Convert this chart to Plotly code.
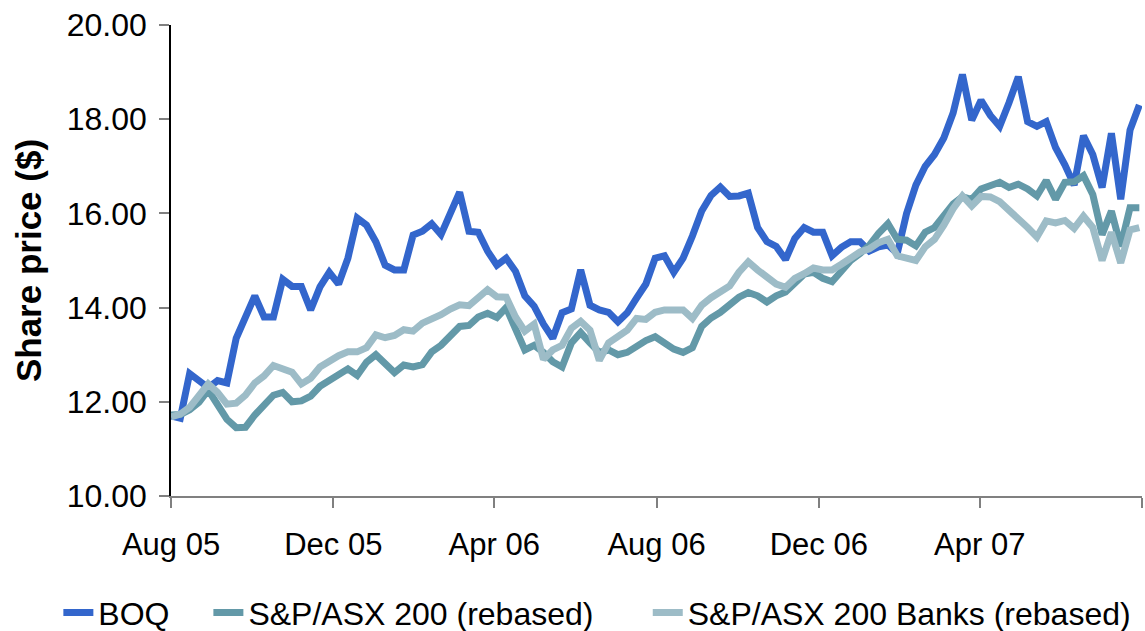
import pandas as pd
import plotly.graph_objects as go

# Weekly observation dates (Aug 2005 - Jul 2007)
dates = pd.date_range("2005-08-01", periods=105, freq="7D")

boq = [11.70, 11.65, 12.60, 12.45, 12.30, 12.45, 12.40, 13.35, 13.85, 14.25,
       13.80, 13.80, 14.60, 14.45, 14.45, 13.95, 14.44, 14.75, 14.50, 15.05,
       15.90, 15.75, 15.40, 14.90, 14.80, 14.80, 15.54, 15.62, 15.78, 15.55,
       16.00, 16.45, 15.62, 15.60, 15.20, 14.90, 15.05, 14.77, 14.25, 14.03,
       13.65, 13.35, 13.89, 13.97, 14.80, 14.05, 13.95, 13.90, 13.70, 13.89,
       14.20, 14.50, 15.05, 15.10, 14.75, 15.05, 15.52, 16.05, 16.38, 16.56,
       16.36, 16.37, 16.43, 15.70, 15.40, 15.30, 15.02, 15.47, 15.70, 15.60,
       15.60, 15.10, 15.28, 15.40, 15.40, 15.20, 15.29, 15.33, 15.15, 16.00,
       16.60, 17.00, 17.25, 17.60, 18.13, 18.95, 17.98, 18.40, 18.08, 17.85,
       18.35, 18.90, 17.95, 17.85, 17.95, 17.40, 17.03, 16.60, 17.65, 17.25,
       16.55, 17.70, 16.30, 17.77, 18.30]

asx200 = [11.72, 11.73, 11.83, 11.99, 12.25, 11.95, 11.63, 11.45, 11.46, 11.72,
          11.95, 12.14, 12.20, 12.00, 12.02, 12.12, 12.33, 12.46, 12.58, 12.70,
          12.56, 12.84, 13.00, 12.80, 12.62, 12.78, 12.74, 12.79, 13.06, 13.20,
          13.40, 13.60, 13.62, 13.80, 13.88, 13.79, 14.00, 13.55, 13.10, 13.20,
          13.05, 12.85, 12.74, 13.25, 13.47, 13.25, 13.05, 13.10, 13.00, 13.05,
          13.18, 13.30, 13.38, 13.25, 13.12, 13.05, 13.15, 13.60, 13.78, 13.90,
          14.05, 14.22, 14.32, 14.25, 14.12, 14.25, 14.33, 14.50, 14.71, 14.75,
          14.62, 14.55, 14.78, 15.00, 15.15, 15.32, 15.58, 15.78, 15.45, 15.43,
          15.31, 15.60, 15.70, 15.97, 16.20, 16.35, 16.30, 16.52, 16.59, 16.66,
          16.55, 16.62, 16.52, 16.37, 16.70, 16.30, 16.66, 16.67, 16.80, 16.40,
          15.55, 16.05, 15.30, 16.12, 16.12]

banks = [11.68, 11.74, 11.88, 12.12, 12.38, 12.20, 11.95, 11.97, 12.14, 12.40,
         12.55, 12.77, 12.70, 12.63, 12.38, 12.50, 12.74, 12.87, 12.98, 13.06,
         13.06, 13.15, 13.42, 13.36, 13.41, 13.53, 13.50, 13.67, 13.75, 13.85,
         13.97, 14.06, 14.04, 14.23, 14.38, 14.23, 14.22, 13.80, 13.50, 13.65,
         12.90, 13.10, 13.20, 13.56, 13.71, 13.52, 12.88, 13.25, 13.38, 13.52,
         13.77, 13.75, 13.90, 13.95, 13.95, 13.95, 13.77, 14.05, 14.21, 14.32,
         14.46, 14.75, 14.97, 14.80, 14.65, 14.50, 14.43, 14.62, 14.72, 14.84,
         14.80, 14.80, 14.92, 15.05, 15.18, 15.25, 15.38, 15.45, 15.10, 15.05,
         15.00, 15.29, 15.45, 15.75, 16.10, 16.37, 16.16, 16.36, 16.35, 16.25,
         16.07, 15.92, 15.70, 15.50, 15.84, 15.80, 15.85, 15.68, 15.94, 15.70,
         15.00, 15.60, 14.95, 15.65, 15.70]

series_names = ["BOQ", "S&P/ASX 200 (rebased)", "S&P/ASX 200 Banks (rebased)"]
series_colors = ["#3366CC", "#6399A8", "#9DBCC7"]
legend_ids = ["legend", "legend2", "legend3"]

tick_vals = ["2005-08-01", "2005-12-01", "2006-04-01", "2006-08-01",
             "2006-12-01", "2007-04-01", "2007-08-01"]
tick_text = ["Aug 05", "Dec 05", "Apr 06", "Aug 06", "Dec 06", "Apr 07", ""]

FONT = "Liberation Sans, Arial, sans-serif"

fig = go.Figure()
for name, vals, col, lg in zip(series_names, [boq, asx200, banks],
                               series_colors, legend_ids):
    fig.add_trace(go.Scatter(x=dates, y=vals, mode="lines", name=name,
                             legend=lg, line=dict(color=col, width=7)))

leg_common = dict(orientation="h", xanchor="left", y=-0.248, yanchor="middle",
                  font=dict(size=32, family=FONT, color="black"),
                  bgcolor="rgba(0,0,0,0)")

fig.update_layout(
    width=1145, height=631,
    margin=dict(l=171, r=3, t=25, b=135, autoexpand=False),
    paper_bgcolor="white", plot_bgcolor="white",
    font=dict(family=FONT, color="black"),
    showlegend=True,
    legend=dict(x=-0.116, **leg_common),
    legend2=dict(x=0.0385, **leg_common),
    legend3=dict(x=0.491, **leg_common),
)
fig.update_xaxes(
    type="date", range=["2005-08-01", "2007-08-01"], automargin=False,
    tickmode="array", tickvals=tick_vals, ticktext=tick_text,
    showgrid=False, zeroline=False,
    showline=True, linecolor="#808080", linewidth=2,
    ticks="outside", ticklen=10, tickwidth=1.5, tickcolor="#808080",
    ticklabelstandoff=10,
    tickfont=dict(size=31, family=FONT, color="black"),
)
fig.update_yaxes(
    range=[10, 20], dtick=2, tick0=10, tickformat=".2f", automargin=False,
    showgrid=False, zeroline=False,
    showline=True, linecolor="black", linewidth=1.5,
    ticks="outside", ticklen=10, tickwidth=1.5, tickcolor="#808080",
    ticklabelstandoff=6,
    tickfont=dict(size=32, family=FONT, color="black"),
    title=dict(text="<b>Share price ($)</b>", standoff=15,
               font=dict(size=35, family=FONT, color="black")),
)

fig.write_html("out.html",
               config={"displayModeBar": False},
               post_script="document.body.style.margin='0';"
                           "document.body.style.overflow='hidden';")
